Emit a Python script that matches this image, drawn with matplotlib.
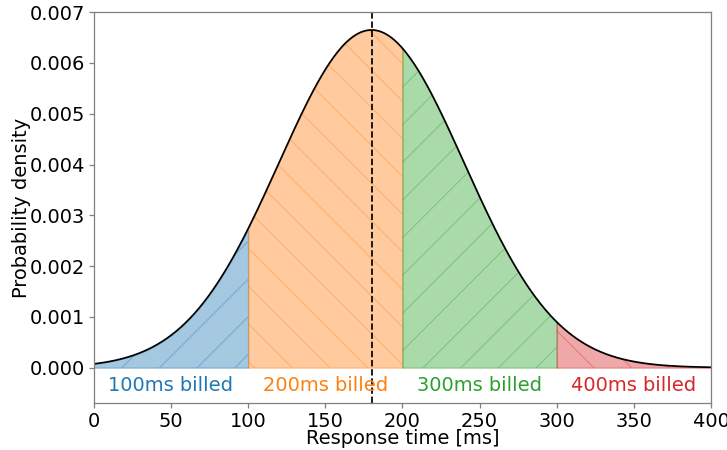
import numpy as np
import matplotlib
matplotlib.use('Agg')
import matplotlib.pyplot as plt

# response time distribution (normal)
mean_ms = 180
std_ms = 60
bin_edges = [0, 100, 200, 300, 400]
bin_labels = ['100ms billed', '200ms billed', '300ms billed', '400ms billed']
bin_colors = ['tab:blue', 'tab:orange', 'tab:green', 'tab:red']
bin_hatches = ['/', '\\', '/', '\\']

x = np.linspace(0, 400, 801)
pdf = np.exp(-0.5 * ((x - mean_ms) / std_ms) ** 2) / (std_ms * np.sqrt(2 * np.pi))

DPI = 113
fs = 14 * 100 / DPI
plt.rcParams['hatch.linewidth'] = 0.6
fig, ax = plt.subplots(figsize=(727 / DPI, 450 / DPI), dpi=DPI)

for i in range(len(bin_labels)):
    lo, hi = bin_edges[i], bin_edges[i + 1]
    mask = (x >= lo) & (x <= hi)
    ax.fill_between(x[mask], 0, pdf[mask], facecolor=bin_colors[i], alpha=0.4,
                    edgecolor=bin_colors[i], linewidth=0.8)
    ax.fill_between(x[mask], 0, pdf[mask], facecolor='none', alpha=0.4,
                    hatch=bin_hatches[i], edgecolor=bin_colors[i], linewidth=0)
    ax.text((lo + hi) / 2, -0.00035, bin_labels[i], color=bin_colors[i],
            fontsize=fs, ha='center', va='center')

ax.plot(x, pdf, color='black', linewidth=1.1)
ax.axvline(mean_ms, color='black', linestyle='--', linewidth=1.1)

ax.set_xlim(0, 400)
ax.set_ylim(-0.0007, 0.007)
ax.set_yticks(np.arange(0, 0.0071, 0.001))
ax.set_yticklabels(['%.3f' % v for v in np.arange(0, 0.0071, 0.001)])
ax.set_xlabel('Response time [ms]', fontsize=fs, labelpad=-1)
ax.set_ylabel('Probability density', fontsize=fs, labelpad=-1)
ax.tick_params(labelsize=fs, color='gray', length=3, pad=2.5)
for s in ax.spines.values():
    s.set_color('gray')

fig.subplots_adjust(left=0.129, right=0.978, top=0.973, bottom=0.104)
fig.savefig('out.png')
